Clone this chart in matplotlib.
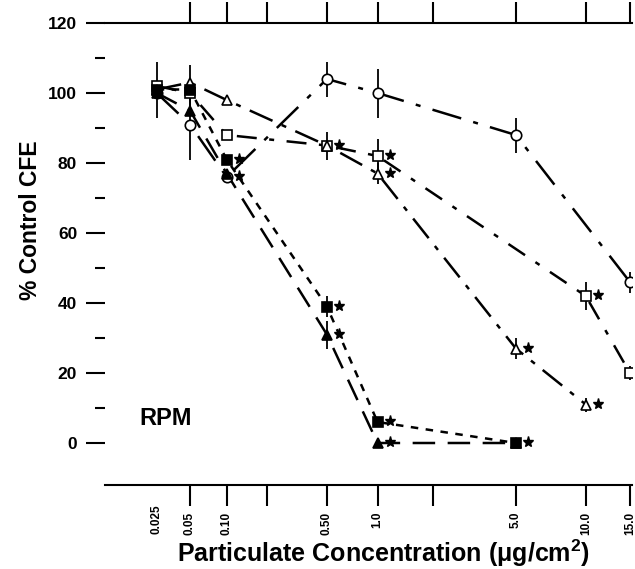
import numpy as np
import matplotlib
matplotlib.use("Agg")
import matplotlib.pyplot as plt
import matplotlib.transforms as mtransforms

plt.rcParams['font.family'] = ['Liberation Sans', 'DejaVu Sans']
plt.rcParams['font.weight'] = 'bold'
plt.rcParams['mathtext.fontset'] = 'custom'
plt.rcParams['mathtext.rm'] = 'Liberation Sans:bold'
plt.rcParams['mathtext.bf'] = 'Liberation Sans:bold'

# ---- data ----
x_circle = [0.025, 0.05, 0.1, 0.5, 1.0, 5.0, 15.0]
y_circle = [100, 91, 76, 104, 100, 88, 46]
e_circle = [0, 10, 0, 5, 7, 5, 3]
s_circle = [0, 0, 1, 0, 0, 0, 0]

x_osq = [0.025, 0.05, 0.1, 0.5, 1.0, 10.0, 15.0]
y_osq = [102, 100, 88, 85, 82, 42, 20]
e_osq = [0, 0, 0, 4, 5, 4, 2]
s_osq = [0, 0, 0, 1, 1, 1, 0]

x_otri = [0.025, 0.05, 0.1, 0.5, 1.0, 5.0, 10.0]
y_otri = [101, 103, 98, 85, 77, 27, 11]
e_otri = [0, 0, 0, 0, 3, 3, 2]
s_otri = [0, 0, 0, 0, 1, 1, 1]

x_fsq = [0.025, 0.05, 0.1, 0.5, 1.0, 5.0]
y_fsq = [101, 101, 81, 39, 6, 0]
e_fsq = [8, 7, 0, 3, 0, 0]
s_fsq = [0, 0, 1, 1, 1, 1]

x_ftri = [0.025, 0.05, 0.1, 0.5, 1.0, 5.0]
y_ftri = [100, 95, 77, 31, 0, 0]
e_ftri = [0, 0, 0, 4, 0, 0]
s_ftri = [0, 0, 0, 1, 1, 0]

xticks = [0.05, 0.1, 0.2, 0.5, 1.0, 2.0, 5.0, 10.0, 15.0]
xticklabels = ['0.05', '0.10', '', '0.50', '1.0', '', '5.0', '10.0', '15.0']
extra_label_x = 0.025
extra_label = '0.025'
yticks = [0, 20, 40, 60, 80, 100, 120]

P = 0.14
def fwd(x):
    return np.sign(x) * np.abs(x) ** P
def inv(y):
    return np.sign(y) * np.abs(y) ** (1.0 / P)

fig = plt.figure(figsize=(6.35, 5.69), dpi=100)
ax = fig.add_axes([105/635, 84/569, 527/635, 462/569])
ax.set_xscale('function', functions=(fwd, inv))
ax.set_xlim(0.0073, 15.28)
ax.set_ylim(-12, 120)

star_tr = mtransforms.offset_copy(ax.transData, fig=fig, x=12, y=1, units='dots')

series = [
    (x_circle, y_circle, e_circle, s_circle, 'o', 'white', (0, (12, 5, 2, 5))),
    (x_osq, y_osq, e_osq, s_osq, 's', 'white', (0, (8, 5, 2, 5))),
    (x_otri, y_otri, e_otri, s_otri, '^', 'white', (0, (10, 4, 2, 4))),
    (x_fsq, y_fsq, e_fsq, s_fsq, 's', 'black', (0, (3, 3))),
    (x_ftri, y_ftri, e_ftri, s_ftri, '^', 'black', (0, (9, 5))),
]

for xs, ys, es, ss, mk, fc, ls in series:
    ax.plot(xs, ys, color='black', lw=1.8, linestyle=ls, zorder=2)
    ax.errorbar(xs, ys, yerr=es, fmt='none', ecolor='black', elinewidth=1.3,
                capsize=0, zorder=3)
    ax.plot(xs, ys, linestyle='none', marker=mk, markersize=7.5,
            markerfacecolor=fc, markeredgecolor='black', markeredgewidth=1.2,
            zorder=4)
    sx = [x for x, s in zip(xs, ss) if s]
    sy = [y for y, s in zip(ys, ss) if s]
    ax.plot(sx, sy, linestyle='none', marker='*', markersize=8, color='black',
            transform=star_tr, zorder=5)

ax.spines['left'].set_visible(False)
ax.spines['right'].set_visible(False)
for sp in ['top', 'bottom']:
    ax.spines[sp].set_linewidth(1.5)

ax.set_yticks(yticks)
ax.set_yticks([10, 30, 50, 70, 90, 110], minor=True)
ax.tick_params(axis='y', which='major', length=14, width=1.5, pad=6,
               labelsize=12.5, direction='out')
ax.tick_params(axis='y', which='minor', length=7, width=1.5, direction='out')
for lab in ax.get_yticklabels():
    lab.set_fontweight('bold')

ax.set_xticks(xticks)
ax.set_xticklabels(xticklabels, rotation=90, fontsize=8.5, fontweight='bold')
ax.xaxis.set_minor_locator(matplotlib.ticker.NullLocator())
ax.tick_params(axis='x', which='major', top=True, bottom=True, length=15,
               width=1.5, direction='out', pad=4)

btr = mtransforms.blended_transform_factory(ax.transData, ax.transAxes)
ax.text(extra_label_x, -0.0412, extra_label, transform=btr, rotation=90,
        ha='center', va='top', fontsize=8.5, fontweight='bold')

ax.text(0.066, 0.145, 'RPM', transform=ax.transAxes, fontsize=17,
        fontweight='bold', ha='left', va='center')

fig.text(31/635, 1 - 220/569, '% Control CFE', rotation=90, fontsize=16.5,
         fontweight='bold', ha='center', va='center')
fig.text(383/635, 1 - 553/569,
         'Particulate Concentration (\u03bcg/cm$^{2}$)',
         fontsize=18, fontweight='bold', ha='center', va='center')

fig.savefig('out.png', dpi=100)
